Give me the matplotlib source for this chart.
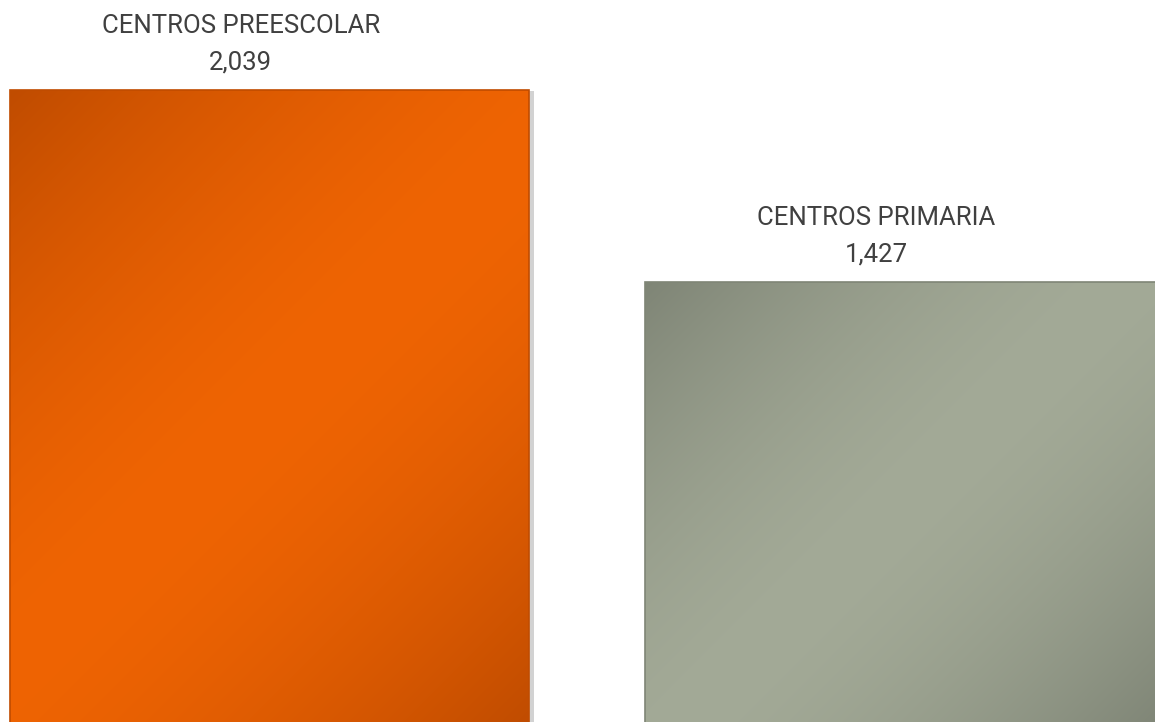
import numpy as np
import matplotlib
matplotlib.use("Agg")
import matplotlib.pyplot as plt
import matplotlib.patheffects as pe
from matplotlib.colors import to_rgb

# data
categories = ["CENTROS PREESCOLAR", "CENTROS PRIMARIA"]
values = [2039, 1427]
dark_colors = ["#c04c00", "#7f8576"]
light_colors = ["#ef6403", "#a3aa97"]

plt.rcParams['font.family'] = ['Roboto', 'DejaVu Sans']

fig = plt.figure(figsize=(11.55, 7.22), dpi=100)
ax = fig.add_axes([0, 0, 1, 1])
ax.set_axis_off()

x = np.arange(len(values))
width = 0.817
XLIM = (-0.4244, 1.3945)
YLIM = (19.2, 2327)   # baseline sits just below the bottom edge
ax.set_xlim(*XLIM)
ax.set_ylim(*YLIM)

bars = ax.bar(x, values, width=width, color=dark_colors, zorder=1,
              edgecolor='none')

for b, dc, lc in zip(bars, dark_colors, light_colors):
    b.set_path_effects([pe.SimplePatchShadow(offset=(4, -1), shadow_rgbFace='#808080', alpha=0.35),
                        pe.Normal()])
    x0, y0 = b.get_xy()
    w, h = b.get_width(), b.get_height()
    # size of the bar in pixels, so the sheen runs at 45 degrees
    p0 = ax.transData.transform((x0, y0))
    p1 = ax.transData.transform((x0 + w, y0 + h))
    pw, ph = abs(p1[0] - p0[0]), abs(p1[1] - p0[1])
    nx, ny = 200, 200
    xx, yy = np.meshgrid(np.linspace(0, 1, nx), np.linspace(0, 1, ny))
    s = (xx * pw + yy * ph) / (pw + ph)
    f = np.clip(1 - np.abs(2 * s - 1) ** 1.6, 0, 1)
    c0, c1 = np.array(to_rgb(dc)), np.array(to_rgb(lc))
    img = c0 + (c1 - c0) * f[..., None]
    im = ax.imshow(img, extent=[x0, x0 + w, y0, y0 + h], origin='upper',
                   aspect='auto', zorder=2, interpolation='bilinear')
    im.set_clip_path(b)
    # thin bevel edge
    ax.bar(b.get_x() + w / 2, h, width=w, color='none', edgecolor=dc,
           linewidth=1.2, zorder=3)

ax.set_xlim(*XLIM)
ax.set_ylim(*YLIM)

for i, (cat, v) in enumerate(zip(categories, values)):
    ax.annotate(f"{cat}\n{v:,}", xy=(x[i] - 0.045, v), xytext=(0, 11),
                textcoords='offset points', ha='center', va='bottom',
                fontsize=18.5, color='#404040', linespacing=1.65)

fig.savefig("out.png", dpi=100)
